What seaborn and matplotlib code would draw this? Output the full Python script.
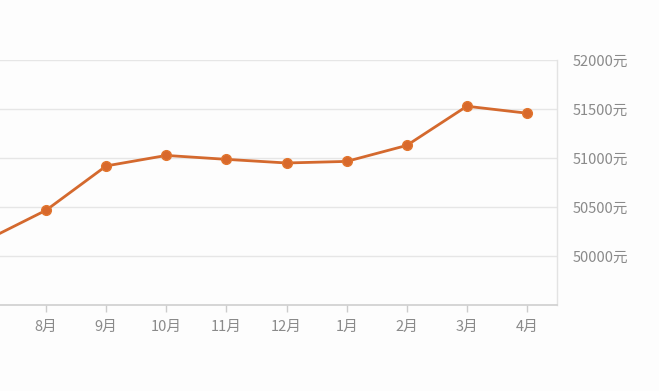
import matplotlib
matplotlib.use("Agg")
import matplotlib.pyplot as plt
import seaborn as sns
import pandas as pd

months = ["7月", "8月", "9月", "10月", "11月", "12月", "1月", "2月", "3月", "4月"]
prices = [50160, 50467, 50919, 51026, 50986, 50949, 50965, 51128, 51528, 51457]
y_ticks = [50000, 50500, 51000, 51500, 52000]
y_tick_labels = ["50000元", "50500元", "51000元", "51500元", "52000元"]

sns.set_theme(style="white")
plt.rcParams["font.family"] = ["Noto Sans CJK SC", "DejaVu Sans"]

df = pd.DataFrame({"month": months, "price": prices})

fig = plt.figure(figsize=(6.59, 3.91), dpi=100)
fig.patch.set_facecolor("#fdfdfd")
ax = fig.add_axes([-0.0668, 0.22, 0.912, 0.6266])
ax.set_facecolor("#fdfdfd")

sns.lineplot(data=df, x="month", y="price", sort=False, ax=ax,
             color="#d4692e", linewidth=2, marker="o", markersize=7,
             markeredgecolor="#e2762f", markerfacecolor="#d8692c",
             markeredgewidth=1, zorder=3)

ax.set_xlim(-0.5, len(months) - 0.5)
ax.set_ylim(49500, 52000)
ax.set_yticks(y_ticks)
ax.set_yticklabels(y_tick_labels)
ax.yaxis.tick_right()
ax.tick_params(axis="y", length=0, pad=11, labelsize=10.5, labelcolor="#8a8a8a")
ax.tick_params(axis="x", length=5, width=1, color="#cccccc", pad=6,
               labelsize=10.5, labelcolor="#8a8a8a", direction="out")
ax.xaxis.tick_bottom()
ax.grid(axis="y", color="#e6e6e6", linewidth=1)
ax.set_axisbelow(True)
ax.set_xlabel("")
ax.set_ylabel("")

for side in ["left", "top"]:
    ax.spines[side].set_visible(False)
ax.spines["right"].set_color("#e3e3e3")
ax.spines["right"].set_linewidth(1)
ax.spines["bottom"].set_color("#cfcfcf")
ax.spines["bottom"].set_linewidth(1.2)

fig.savefig("out.png", dpi=100, facecolor=fig.get_facecolor())
